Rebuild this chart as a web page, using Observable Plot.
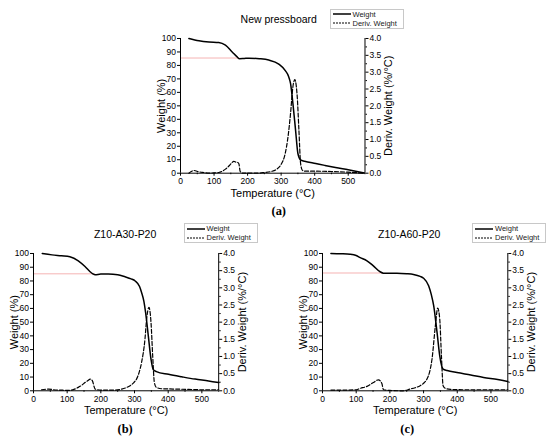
<!DOCTYPE html>
<html>
<head>
<meta charset="utf-8">
<script src="https://cdn.jsdelivr.net/npm/d3@7"></script>
<script src="https://cdn.jsdelivr.net/npm/@observablehq/plot@0.6"></script>
<style>
  html, body { margin: 0; padding: 0; background: #fff; }
  #root { position: relative; width: 550px; height: 440px; overflow: hidden; font-family: "Liberation Sans", Arial, sans-serif; }
  .panel { position: absolute; }
  .panel svg { position: absolute; left: 0; top: 0; overflow: visible; }
  .legend { position: absolute; border: 1px solid #c8c8c8; background: #fff; font-size: 7.5px; line-height: 9px; color: #222; box-sizing: border-box; padding: 0 0 0 2px; }
  .legend .row { display: flex; align-items: center; height: 9px; }
  .legend svg { position: static; margin-right: 2px; }
</style>
</head>
<body>
<div id="root"></div>
<script>
// ---------- Data ----------
const titles = ["New pressboard", "Z10-A30-P20", "Z10-A60-P20"];
const captions = ["(a)", "(b)", "(c)"];

const xTicks = [0, 100, 200, 300, 400, 500];
const xMinor = [50, 150, 250, 350, 450, 550];
const weightTicks = [0, 10, 20, 30, 40, 50, 60, 70, 80, 90, 100];
const derivTicks = [0, 0.5, 1, 1.5, 2, 2.5, 3, 3.5, 4];
const derivMinor = [0.25, 0.75, 1.25, 1.75, 2.25, 2.75, 3.25, 3.75];

// (a) New pressboard
const tempWA = [25, 55, 85, 114, 134, 154, 168, 176, 190, 204, 235, 263, 293, 313, 322, 328, 335, 343, 350, 358, 370, 403, 430, 462, 500, 548];
const weightA = [100, 98.3, 97.4, 97, 95, 90, 86.5, 85, 85.2, 85.4, 85, 84, 81, 76, 72, 66.6, 52, 32, 14.6, 9.8, 8.9, 7.2, 5.8, 4.2, 2.5, 0.2];
const tempDA = [25, 32, 40, 55, 70, 85, 100, 114, 125, 134, 145, 152, 159, 165, 170, 174, 178, 185, 200, 230, 250, 270, 287, 301, 310, 316, 322, 328, 335, 341, 345, 348, 353, 358, 363, 370, 400, 450, 500, 545];
const derivA = [0.0, 0.05, 0.08, 0.04, 0.02, 0.0, 0.01, 0.02, 0.06, 0.12, 0.22, 0.3, 0.35, 0.33, 0.32, 0.28, 0.05, 0.0, 0.0, 0.0, 0.02, 0.05, 0.12, 0.28, 0.5, 0.78, 1.2, 1.77, 2.56, 2.78, 2.6, 2.27, 1.28, 0.29, 0.09, 0.06, 0.06, 0.05, 0.03, 0.0];

// (b) Z10-A30-P20
const tempWB = [26, 55, 83, 108, 133, 153, 168, 176, 183, 200, 222, 250, 272, 290, 302, 315, 321, 328, 333, 341, 349, 356, 365, 401, 440, 480, 520, 550];
const weightB = [100, 99, 98.3, 97.6, 94.7, 90.5, 86.7, 85.2, 84.5, 85, 85, 84.5, 83, 81.5, 80, 76, 71.6, 65, 57, 40, 23, 15.3, 14, 12, 10.2, 8.5, 7.2, 6];
const tempDB = [24, 45, 60, 80, 103, 120, 133, 143, 153, 162, 168, 175, 180, 183, 200, 240, 262, 275, 287, 298, 306, 315, 321, 331, 336, 343, 349, 354, 359, 365, 380, 420, 460, 500, 550];
const derivB = [0.03, 0.05, 0.03, 0.02, 0.01, 0.04, 0.1, 0.16, 0.24, 0.3, 0.34, 0.29, 0.12, 0.05, 0.02, 0.02, 0.05, 0.09, 0.15, 0.24, 0.34, 0.58, 0.83, 1.5, 2.09, 2.43, 1.99, 1.02, 0.24, 0.1, 0.06, 0.05, 0.04, 0.03, 0.03];

// (c) Z10-A60-P20
const tempWC = [25, 55, 82, 100, 112, 132, 151, 171, 181, 200, 221, 250, 270, 290, 300, 315, 323, 330, 340, 348, 358, 370, 399, 440, 478, 520, 550];
const weightC = [100, 99.8, 99.4, 98.5, 97, 94.7, 91, 86.7, 85.7, 85.7, 85.7, 85.3, 84.7, 83.3, 82, 76.5, 70, 62, 42.5, 25.5, 15.8, 14.8, 13.3, 11.5, 9.7, 8.2, 6.8];
const tempDC = [25, 60, 100, 112, 132, 151, 166, 176, 181, 200, 240, 260, 275, 290, 300, 310, 318, 325, 335, 342, 348, 353, 358, 365, 380, 420, 460, 500, 550];
const derivC = [0.02, 0.02, 0.03, 0.07, 0.13, 0.24, 0.32, 0.22, 0.03, 0.01, 0.0, 0.05, 0.09, 0.15, 0.22, 0.34, 0.55, 0.92, 1.89, 2.41, 2.09, 1.02, 0.15, 0.07, 0.04, 0.03, 0.03, 0.03, 0.03];

// reference (pink) level line: [level, end temperature]
const refLevels = [85.5, 85.2, 85.8];
const refEnds = [176, 183, 181];

// ---------- Layout ----------
const panels = [
  {tw: tempWA, w: weightA, td: tempDA, d: derivA, left: 180, top: 38.3, pw: 184.5, ph: 134.7, titleDx: 6, capDx: 6},
  {tw: tempWB, w: weightB, td: tempDB, d: derivB, left: 33.3, top: 252.7, pw: 185.2, ph: 137.3, titleDx: -1, capDx: -1},
  {tw: tempWC, w: weightC, td: tempDC, d: derivC, left: 321.7, top: 252.7, pw: 185.3, ph: 137.3, titleDx: -6, capDx: -8}
];

const ML = 50, MR = 50, MT = 40, MB = 50;
const FONT = "Liberation Sans, Arial, sans-serif";
const root = document.getElementById("root");

panels.forEach((p, i) => {
  const W = ML + p.pw + MR, H = MT + p.ph + MB;
  const div = document.createElement("div");
  div.className = "panel";
  div.style.left = (p.left - ML) + "px";
  div.style.top = (p.top - MT) + "px";
  div.style.width = W + "px";
  div.style.height = H + "px";
  root.appendChild(div);

  const wData = p.tw.map((t, k) => ({t, v: p.w[k]}));
  const dData = p.td.map((t, k) => ({t, v: p.d[k]}));

  const common = {
    width: W, height: H,
    marginLeft: ML, marginRight: MR, marginTop: MT, marginBottom: MB,
    style: {fontFamily: FONT, background: "transparent", color: "black", overflow: "visible"}
  };

  const weightPlot = Plot.plot({
    ...common,
    x: {domain: [0, 550]},
    y: {domain: [0, 100]},
    marks: [
      Plot.ruleY([refLevels[i]], {x1: 0, x2: refEnds[i], stroke: "#f5b3b3", strokeWidth: 1}),
      Plot.line(wData, {x: "t", y: "v", stroke: "black", strokeWidth: 1.5, curve: "monotone-x"}),
      Plot.ruleX([0, 550], {stroke: "black", strokeWidth: 1}),
      Plot.ruleY([0], {stroke: "black", strokeWidth: 1}),
      Plot.axisX({ticks: xTicks, tickSize: 3, tickPadding: 2, label: null, fontSize: 8.5, tickFormat: d => d}),
      Plot.axisX({ticks: xMinor, tickSize: 1.5, label: null, tickFormat: () => ""}),
      Plot.axisY({ticks: weightTicks, tickSize: 3, tickPadding: 1.5, label: null, fontSize: 8.5, tickFormat: d => d}),
      Plot.text(["Weight (%)"], {text: d => d, frameAnchor: "left", rotate: -90, dx: -19, textAnchor: "middle", lineAnchor: "middle", fontSize: 11}),
      Plot.text(["Temperature (°C)"], {text: d => d, frameAnchor: "bottom", dy: 20, textAnchor: "middle", lineAnchor: "middle", fontSize: 11}),
      Plot.text([titles[i]], {text: d => d, frameAnchor: "top", dy: -19, dx: p.titleDx, textAnchor: "middle", lineAnchor: "middle", fontSize: 10.5}),
      Plot.text([captions[i]], {text: d => d, frameAnchor: "bottom", dy: 38, dx: p.capDx, textAnchor: "middle", lineAnchor: "middle", fontSize: 12.5, fontFamily: "Liberation Serif, Times New Roman, serif", fontWeight: "bold"})
    ]
  });

  const derivPlot = Plot.plot({
    ...common,
    x: {domain: [0, 550], axis: null},
    y: {domain: [0, 4]},
    marks: [
      Plot.line(dData, {x: "t", y: "v", stroke: "black", strokeWidth: 1.2, strokeDasharray: "4,2", curve: "monotone-x"}),
      Plot.axisY({anchor: "right", ticks: derivTicks, tickSize: 3, tickPadding: 1.5, label: null, fontSize: 8.5, tickFormat: d3.format(".1f")}),
      Plot.axisY({anchor: "right", ticks: derivMinor, tickSize: 1.5, label: null, tickFormat: () => ""}),
      Plot.text(["Deriv. Weight (%/°C)"], {text: d => d, frameAnchor: "right", rotate: -90, dx: 23.5, textAnchor: "middle", lineAnchor: "middle", fontSize: 11})
    ]
  });

  div.appendChild(weightPlot);
  div.appendChild(derivPlot);

  // legend
  const lg = document.createElement("div");
  lg.className = "legend";
  lg.style.left = (ML + p.pw - 35) + "px";
  lg.style.top = (MT - 29.5) + "px";
  lg.style.width = "74px";
  lg.style.height = "20px";
  lg.innerHTML =
    `<div class="row"><svg width="18" height="6"><line x1="0" y1="3" x2="18" y2="3" stroke="black" stroke-width="1.5"/></svg><span>Weight</span></div>` +
    `<div class="row"><svg width="18" height="6"><line x1="0" y1="3" x2="18" y2="3" stroke="black" stroke-width="1" stroke-dasharray="2,1"/></svg><span>Deriv. Weight</span></div>`;
  div.appendChild(lg);
});
</script>
</body>
</html>
